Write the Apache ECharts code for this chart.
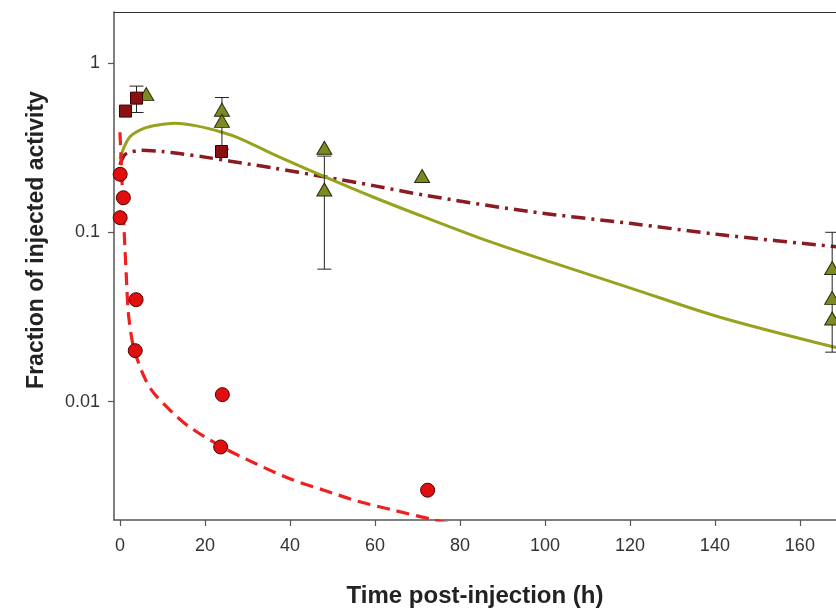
<!DOCTYPE html>
<html><head><meta charset="utf-8">
<script src="https://cdn.jsdelivr.net/npm/echarts@6/dist/echarts.min.js"></script>
<style>html,body{margin:0;padding:0;background:#fff}#c{width:836px;height:613px}</style>
</head><body><div id="c"></div>
<script>
// scatter data
var bloodT = [0.05, 0.8, 0.05, 3.8, 3.6, 24.1, 23.7, 72.4];
var bloodY = [0.22, 0.16, 0.122, 0.040, 0.020, 0.011, 0.0054, 0.0030];
var sqT = [1.3, 3.9, 23.9];
var sqY = [0.52, 0.62, 0.30];
var triT = [6.2, 24, 24, 48.1, 48.1, 71.1, 167.6, 167.6, 167.6];
var triY = [0.655, 0.53, 0.455, 0.316, 0.179, 0.215, 0.0616, 0.041, 0.031];
// error bars
var errT = [3.9, 24, 48.1, 167.6];
var errLo = [0.51, 0.31, 0.0606, 0.0196];
var errHi = [0.73, 0.625, 0.282, 0.100];
// fitted curves
var redT = [0, 0.3, 0.6, 1, 1.5, 2, 3, 4, 6, 8, 12, 16, 24, 32, 40, 48, 56, 64, 74, 80];
var redY = [0.39, 0.26, 0.17, 0.10, 0.055, 0.033, 0.022, 0.018, 0.0135, 0.0112, 0.0088, 0.0072, 0.0054, 0.0043, 0.0035, 0.0030, 0.00258, 0.0023, 0.0020, 0.00185];
var oliveT = [0, 1, 2.5, 5.5, 9, 13, 18, 24, 28, 36, 48, 60, 72, 86, 102, 120, 141, 168, 171];
var oliveY = [0.27, 0.32, 0.37, 0.41, 0.43, 0.44, 0.425, 0.39, 0.36, 0.29, 0.214, 0.16, 0.122, 0.09, 0.066, 0.047, 0.0316, 0.021, 0.0205];
var ddT = [0, 1, 2, 5, 10, 14, 20, 26, 36, 48, 60, 72, 96, 120, 141, 168, 171];
var ddY = [0.25, 0.285, 0.295, 0.305, 0.30, 0.292, 0.278, 0.263, 0.24, 0.213, 0.188, 0.165, 0.133, 0.113, 0.097, 0.0824, 0.0813];
// ticks
var xTicks = [0, 20, 40, 60, 80, 100, 120, 140, 160];
var yTicks = [0.01, 0.1, 1];
var xTitle = 'Time post-injection (h)';
var yTitle = 'Fraction of injected activity';

function pairs(a, b) { return a.map(function (v, i) { return [v, b[i]]; }); }
var errData = errT.map(function (t, i) { return [t, errLo[i], errHi[i]]; });

var chart = echarts.init(document.getElementById('c'), null, {renderer: 'canvas'});
var axisCol = '#555';
var font = 'Liberation Sans';
chart.setOption({
  animation: false,
  backgroundColor: '#fff',
  grid: {left: 114, right: 0, top: 12, bottom: 93},
  graphic: [{
    type: 'text', x: 37, y: 240, rotation: Math.PI / 2,
    style: {text: yTitle, fontFamily: font, fontWeight: 'bold', fontSize: 23, fill: '#222',
      align: 'center', verticalAlign: 'middle'}
  }],
  xAxis: [{
    type: 'value', min: -1.4, max: 168.5,
    name: xTitle, nameLocation: 'middle', nameGap: 64,
    nameTextStyle: {fontFamily: font, fontWeight: 'bold', fontSize: 24, color: '#222'},
    axisLine: {show: true, onZero: false, lineStyle: {color: axisCol, width: 1.5}},
    axisTick: {show: true, length: 6, customValues: xTicks, lineStyle: {color: axisCol, width: 1.2}},
    axisLabel: {customValues: xTicks, margin: 17, fontFamily: font, fontSize: 18, color: '#333'},
    splitLine: {show: false}
  }, {
    type: 'value', position: 'top', min: -1.4, max: 168.5,
    axisLine: {show: true, onZero: false, lineStyle: {color: '#333', width: 1.2}},
    axisTick: {show: false}, axisLabel: {show: false}, splitLine: {show: false}
  }],
  yAxis: {
    type: 'log', logBase: 10, min: 0.002, max: 2,
    axisLine: {show: true, onZero: false, lineStyle: {color: axisCol, width: 1.5}},
    axisTick: {show: true, length: 6, customValues: yTicks, lineStyle: {color: axisCol, width: 1.2}},
    axisLabel: {customValues: yTicks, margin: 14, fontFamily: font, fontSize: 18, color: '#333',
      formatter: function (v) { return String(+v.toPrecision(3)); }},
    splitLine: {show: false}
  },
  series: [
    {type: 'line', data: pairs(ddT, ddY), showSymbol: false, smooth: 0.3, clip: true,
      lineStyle: {color: '#8b1a22', width: 3.5, type: [14, 6, 3, 6]}, z: 2},
    {type: 'line', data: pairs(oliveT, oliveY), showSymbol: false, smooth: 0.3, clip: true,
      lineStyle: {color: '#97a21e', width: 3}, z: 3},
    {type: 'line', data: pairs(redT, redY), showSymbol: false, smooth: 0.3, clip: true,
      lineStyle: {color: '#ee2020', width: 3.2, type: [13, 7]}, z: 3},
    {type: 'custom', data: errData, clip: true, z: 4,
      renderItem: function (params, api) {
        var x = api.value(0);
        var lo = api.coord([x, api.value(1)]);
        var hi = api.coord([x, api.value(2)]);
        var w = 7;
        var st = {stroke: '#222', lineWidth: 1};
        return {type: 'group', children: [
          {type: 'line', shape: {x1: lo[0], y1: lo[1], x2: hi[0], y2: hi[1]}, style: st},
          {type: 'line', shape: {x1: lo[0] - w, y1: lo[1], x2: lo[0] + w, y2: lo[1]}, style: st},
          {type: 'line', shape: {x1: hi[0] - w, y1: hi[1], x2: hi[0] + w, y2: hi[1]}, style: st}
        ]};
      }},
    {type: 'scatter', data: pairs(triT, triY), symbol: 'triangle', symbolSize: [15, 13], clip: false, z: 5,
      itemStyle: {color: '#7d8a22', borderColor: '#2a2a10', borderWidth: 1, opacity: 1}},
    {type: 'scatter', data: pairs(sqT, sqY), symbol: 'rect', symbolSize: 12, clip: false, z: 5,
      itemStyle: {color: '#8b1010', borderColor: '#3a0000', borderWidth: 1, opacity: 1}},
    {type: 'scatter', data: pairs(bloodT, bloodY), symbol: 'circle', symbolSize: 14, clip: false, z: 6,
      itemStyle: {color: '#e00e0e', borderColor: '#550000', borderWidth: 1, opacity: 1}}
  ]
});
</script>
</body></html>
